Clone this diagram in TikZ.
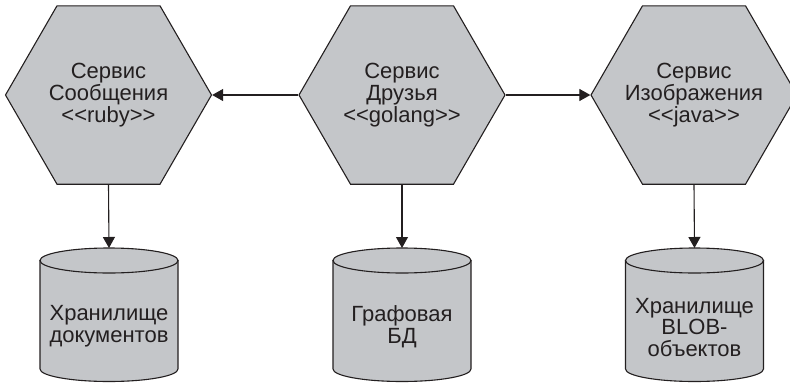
\documentclass[tikz,border=0pt]{standalone}
\usepackage{fontspec}
\setmainfont{Liberation Sans}
\usetikzlibrary{shapes.geometric,arrows.meta}
\definecolor{shapefill}{RGB}{196,198,201}
\definecolor{ink}{RGB}{35,31,32}
\tikzset{
  hexnode/.style={regular polygon, regular polygon sides=6, minimum size=206pt,
    inner sep=0pt, draw=ink, fill=shapefill, line width=1.1pt},
  label text/.style={align=center, text=ink, font=\fontsize{22pt}{21.7pt}\selectfont, inner sep=0pt},
  dbshape/.style={draw=ink, fill=shapefill, line width=1.1pt},
  link/.style={draw=ink, line width=1.1pt, -{Triangle[length=11pt,width=12pt]}}
}
\begin{document}
\begin{tikzpicture}[x=1pt,y=-1pt]
\useasboundingbox (0,0) rectangle (790,383);
\clip (0,0) rectangle (790,383);
% hexagons
\node[hexnode] (hex1) at (108.5,95) {};
\node[hexnode] (hex2) at (402,95) {};
\node[hexnode] (hex3) at (694,95) {};
\node[label text] (hex1t) at (hex1.center) {Сервис\\Сообщения\\<{}<ruby>{}>};
\node[label text] (hex2t) at (hex2.center) {Сервис\\Друзья\\<{}<golang>{}>};
\node[label text] (hex3t) at (hex3.center) {Сервис\\Изображения\\<{}<java>{}>};
% cylinders
\foreach \cx/\nm in {109/db1, 402/db2, 694.5/db3}{
  \path[dbshape] (\cx-69,260.5) -- (\cx-69,369)
     arc[start angle=180, end angle=0, x radius=69, y radius=12.5]
     -- (\cx+69,260.5) -- cycle;
  \path[dbshape] (\cx,260.5) ellipse[x radius=69, y radius=12.5];
  \coordinate (\nm top) at (\cx,248);
}
\node[label text] (db1) at (109,326.5) {Хранилище\\документов};
\node[label text] (db2) at (402,326.5) {Графовая\\БД};
\node[label text] (db3) at (694.5,327.5) {Хранилище\\BLOB-\\объектов};
% connectors
\draw[link] (hex2.west) -- (hex1.east);
\draw[link] (hex2.east) -- (hex3.west);
\draw[link] (hex1.south) -- (db1top);
\draw[link] (hex2.south) -- (db2top);
\draw[link] (hex3.south) -- (db3top);
\end{tikzpicture}
\end{document}
